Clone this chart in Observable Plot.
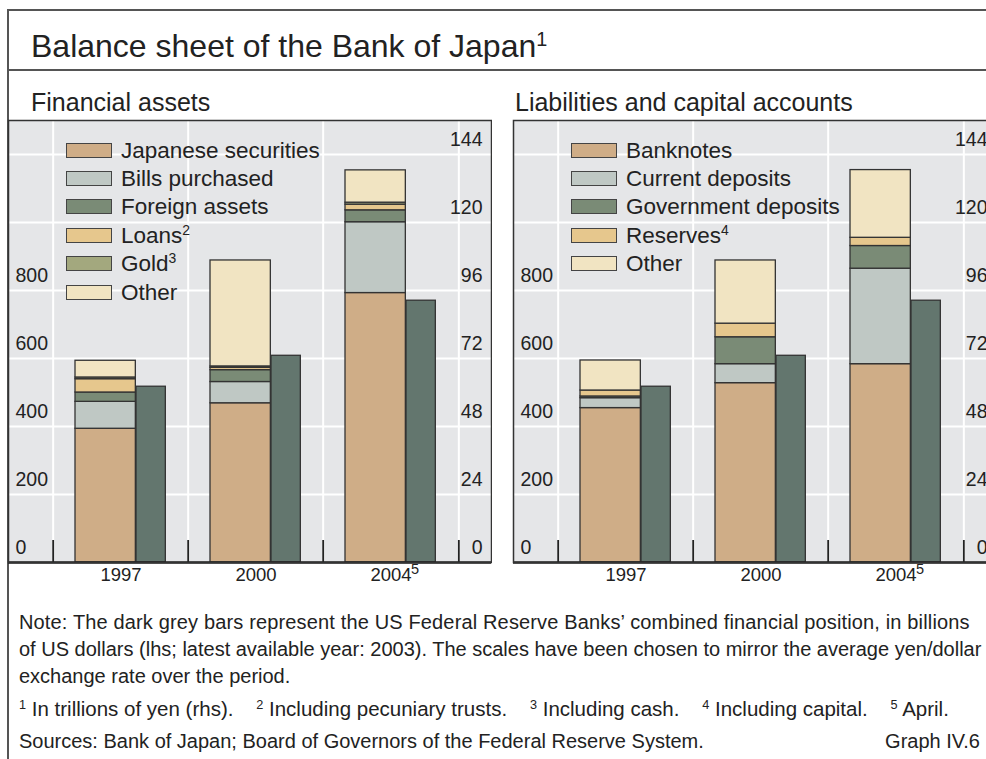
<!DOCTYPE html>
<html><head><meta charset="utf-8">
<script src="https://cdn.jsdelivr.net/npm/d3@7"></script>
<script src="https://cdn.jsdelivr.net/npm/@observablehq/plot@0.6"></script>
<style>
html,body{margin:0;padding:0;width:986px;height:759px;overflow:hidden;background:#fff;font-family:"Liberation Sans",Arial,sans-serif;color:#222}
.abs{position:absolute;white-space:nowrap;line-height:1}
#hline{position:absolute;left:8px;top:69px;width:1200px;height:1.5px;background:#555}
#vline{position:absolute;left:7px;top:9px;width:1.5px;height:800px;background:#555}
#tline{position:absolute;left:7px;top:9px;width:1200px;height:1.5px;background:#555}
.panel{position:absolute;top:118px;width:485px;height:474px}
.panel svg{max-width:none !important;width:485px;height:474px}
.legend .row{position:absolute;display:flex;align-items:flex-start;white-space:nowrap}
.sw{width:44px;height:13px;border:1.5px solid #444;margin-right:9px}
.lt{font-size:22.5px;line-height:1;margin-top:-3px}
sup{font-size:0.62em;vertical-align:0;position:relative;top:-0.55em}
.note{font-size:20px}
</style></head>
<body>
<div id="tline"></div><div id="vline"></div><div id="hline"></div>
<div class="abs" style="left:31px;top:30px;font-size:32px">Balance sheet of the Bank of Japan<sup>1</sup></div>
<div class="abs" style="left:31px;top:90px;font-size:25px">Financial assets</div>
<div class="abs" style="left:515px;top:90px;font-size:25px">Liabilities and capital accounts</div>
<div id="left" class="panel" style="left:7px"></div>
<div id="right" class="panel" style="left:512px"></div>
<div id="legL" class="legend"></div>
<div id="legR" class="legend"></div>
<div class="abs note" style="left:19px;top:612px;letter-spacing:0.15px">Note: The dark grey bars represent the US Federal Reserve Banks’ combined financial position, in billions</div>
<div class="abs note" style="left:19px;top:639px">of US dollars (lhs; latest available year: 2003). The scales have been chosen to mirror the average yen/dollar</div>
<div class="abs note" style="left:19px;top:666px">exchange rate over the period.</div>
<div class="abs note" style="left:19px;top:699px;font-size:20.5px"><sup>1</sup> In trillions of yen (rhs).&nbsp;&nbsp;&nbsp; <sup>2</sup> Including pecuniary trusts.&nbsp;&nbsp;&nbsp; <sup>3</sup> Including cash.&nbsp;&nbsp;&nbsp; <sup>4</sup> Including capital.&nbsp;&nbsp;&nbsp; <sup>5</sup> April.</div>
<div class="abs note" style="left:19px;top:731px">Sources: Bank of Japan; Board of Governors of the Federal Reserve System.</div>
<div class="abs note" style="right:6px;top:731px">Graph IV.6</div>
<script>
// ---- data ----
const years = ["1997", "2000", "2004"];
const yearNotes = [{year: "2004", note: "5"}];
const usdTicks = [0, 200, 400, 600, 800];          // lhs, billions of US dollars
const yenTicks = [0, 24, 48, 72, 96, 120, 144];     // rhs, trillions of yen
const usdPerYenUnit = 1200 / 144;                   // scale mirroring the exchange rate
const yenMax = 156;

// US Federal Reserve Banks, billions of US dollars
const fedUSD = [517, 608, 770];

// Financial assets, trillions of yen
const assetSeries = ["Japanese securities", "Bills purchased", "Foreign assets", "Loans", "Gold", "Other"];
const assetNotes  = ["", "", "", "2", "3", ""];
const japaneseSecurities = [47.2, 56.2, 95.1];
const billsPurchased     = [9.5, 7.5, 25.0];
const foreignAssets      = [3.3, 4.2, 4.2];
const loans              = [4.7, 0.8, 2.0];
const gold               = [0.6, 0.5, 0.7];
const otherAssets        = [5.9, 37.4, 11.4];

// Liabilities and capital accounts, trillions of yen
const liabSeries = ["Banknotes", "Current deposits", "Government deposits", "Reserves", "Other"];
const liabNotes  = ["", "", "", "4", ""];
const banknotes          = [54.5, 63.3, 70.0];
const currentDeposits    = [3.5, 6.7, 33.7];
const governmentDeposits = [0.6, 9.5, 8.0];
const reserves           = [2.1, 4.8, 2.9];
const otherLiab          = [10.6, 22.3, 23.9];

const assetColors = ["#cfad87", "#bfc8c4", "#7a8b76", "#e6c78d", "#a3a87e", "#f1e4c2"];
const liabColors  = ["#cfad87", "#bfc8c4", "#7a8b76", "#e6c78d", "#f1e4c2"];
const fedColor = "#63766e";

function panel(series, colors, values) {
  const data = [];
  series.forEach((s, i) => years.forEach((y, j) => data.push({year: y, series: s, value: values[i][j]})));
  const fed = years.map((y, j) => ({year: y, usd: fedUSD[j]}));
  const x0 = 45, x1 = 452;
  const bw = (x1 - x0) / years.length;
  return Plot.plot({
    width: 485, height: 474,
    marginLeft: 1, marginRight: 1, marginTop: 2, marginBottom: 30,
    style: {fontFamily: "Liberation Sans, Arial, sans-serif", background: "transparent"},
    x: {type: "band", domain: years, range: [x0, x1], padding: 0, axis: null},
    y: {domain: [0, yenMax], axis: null},
    color: {domain: series, range: colors},
    marks: [
      Plot.frame({fill: "#e5e6e8", stroke: null}),
      Plot.ruleY(yenTicks.filter(d => d > 0), {stroke: "#fff", strokeWidth: 2}),
      Plot.ruleX(years, {x: d => d, dx: -bw / 2, stroke: "#fff", strokeWidth: 2}),
      Plot.ruleX(years.slice(-1), {x: d => d, dx: bw / 2, stroke: "#fff", strokeWidth: 2}),
      Plot.barY(data, {x: "year", y: "value", fill: "series", order: series,
        stroke: "#333", strokeWidth: 1.3, insetLeft: 22, insetRight: bw - 83}),
      Plot.barY(fed, {x: "year", y: d => d.usd / usdPerYenUnit, fill: fedColor,
        stroke: "#333", strokeWidth: 1.3, insetLeft: 83, insetRight: bw - 113}),
      Plot.ruleX(years, {x: d => d, dx: -bw / 2, stroke: "#222", strokeWidth: 1.8, insetTop: 420}),
      Plot.ruleX(years.slice(-1), {x: d => d, dx: bw / 2, stroke: "#222", strokeWidth: 1.8, insetTop: 420}),
      Plot.ruleY([0], {stroke: "#222", strokeWidth: 2.4}),
      Plot.frame({stroke: "#333", strokeWidth: 1.5}),
      Plot.text(usdTicks, {y: d => d / usdPerYenUnit, text: d => String(d), frameAnchor: "left",
        textAnchor: "start", dx: 7, dy: -15, fontSize: 19.5, fill: "#222"}),
      Plot.text(yenTicks, {y: d => d, text: d => String(d), frameAnchor: "right",
        textAnchor: "end", dx: -9, dy: -15, fontSize: 19.5, fill: "#222"}),
      Plot.text(years, {x: d => d, text: d => d, frameAnchor: "bottom", dy: 18, fontSize: 18.5, fill: "#222"}),
      Plot.text(yearNotes, {x: "year", text: "note", frameAnchor: "bottom", textAnchor: "start",
        dx: 20, dy: 11, fontSize: 14.5, fill: "#222"})
    ]
  });
}

document.getElementById("left").append(panel(assetSeries, assetColors,
  [japaneseSecurities, billsPurchased, foreignAssets, loans, gold, otherAssets]));
document.getElementById("right").append(panel(liabSeries, liabColors,
  [banknotes, currentDeposits, governmentDeposits, reserves, otherLiab]));

function legend(el, series, colors, notes, left) {
  const c = document.getElementById(el);
  series.forEach((s, i) => {
    const r = document.createElement("div");
    r.className = "row";
    r.style.left = left + "px";
    r.style.top = (142.5 + i * 28.4) + "px";
    r.innerHTML = `<div class="sw" style="background:${colors[i]}"></div><div class="lt">${s}${notes[i] ? `<sup>${notes[i]}</sup>` : ""}</div>`;
    c.append(r);
  });
}
legend("legL", assetSeries, assetColors, assetNotes, 66);
legend("legR", liabSeries, liabColors, liabNotes, 571);
</script>
</body></html>
